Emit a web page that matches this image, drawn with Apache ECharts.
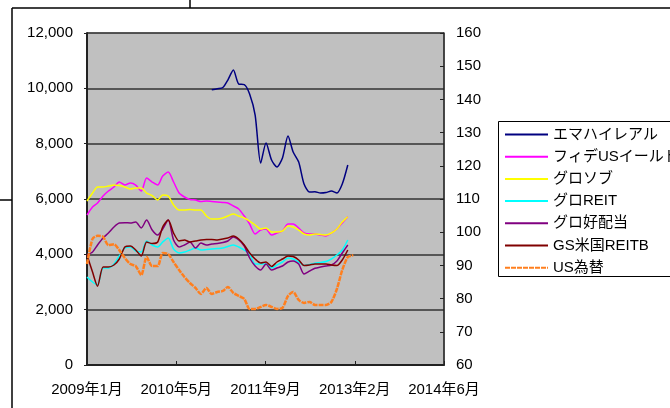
<!DOCTYPE html>
<html>
<head>
<meta charset="utf-8">
<script src="https://cdn.jsdelivr.net/npm/echarts@6/dist/echarts.min.js"></script>
<style>
  html, body { margin: 0; padding: 0; background: #fff; }
  #chart { width: 670px; height: 408px; }
</style>
</head>
<body>
<div id="chart"></div>
<script>
// 月次データ（2009年1月〜）
var months = [
  "2009-01","2009-02","2009-03","2009-04","2009-05","2009-06","2009-07","2009-08","2009-09","2009-10","2009-11","2009-12",
  "2010-01","2010-02","2010-03","2010-04","2010-05","2010-06","2010-07","2010-08","2010-09","2010-10","2010-11","2010-12",
  "2011-01","2011-02","2011-03","2011-04","2011-05","2011-06","2011-07","2011-08","2011-09","2011-10","2011-11","2011-12",
  "2012-01","2012-02","2012-03","2012-04","2012-05","2012-06","2012-07","2012-08","2012-09","2012-10","2012-11","2012-12",
  "2013-01","2013-02"
];
var xTickLabels = ["2009年1月", "2010年5月", "2011年9月", "2013年2月", "2014年6月"];
var seriesNames = ["エマハイレアル", "フィデUSイールド", "グロソブ", "グロREIT", "グロ好配当", "GS米国REITB", "US為替"];

var emaHigh = [
  null,null,null,null,null,null,null,null,null,null,null,null,
  null,null,null,null,null,null,null,null,null,null,null,
  9950,9986,10029,10300,10661,10155,10137,9794,9035,7300,8023,7409,7156,
  7481,8276,7698,7336,6541,6252,6263,6216,6234,6288,6216,6541,7228
];
var fideUs = [
  5421,5710,5855,6108,6288,6433,6614,6505,6577,6505,6288,6758,
  6614,6505,6830,6975,6614,6216,6072,5981,5963,5909,5927,5909,
  5891,5873,5855,5746,5638,5385,5096,4734,4879,4915,4698,4770,
  4843,5096,5096,4951,4770,4734,4734,4698,4662,4770,4915,5132,5360
];
var gloSov = [
  5927,6216,6433,6433,6469,6505,6487,6433,6361,6397,6397,6216,
  6126,5963,6144,6108,5782,5602,5602,5620,5602,5602,5385,5276,
  5276,5313,5385,5457,5385,5313,5204,5060,4915,4951,4807,4807,
  4843,5024,4987,4879,4734,4698,4734,4716,4698,4770,4915,5168,5360
];
var gloReit = [
  3180,3000,2900,3506,3506,3650,3939,4228,4265,4120,4084,4481,
  4337,4265,4445,4590,4192,4048,4084,4156,4228,4156,4174,4192,
  4210,4228,4282,4337,4265,4156,4012,3650,3650,3650,3506,3614,
  3723,3867,3831,3723,3596,3632,3675,3704,3740,3831,3975,4156,4518
];
var gloDiv = [
  3975,4084,4337,4590,4770,4987,5132,5143,5132,5168,4951,5240,
  4879,4698,4915,5240,4518,4265,4337,4445,4228,4409,4337,4373,
  4391,4427,4481,4626,4518,4301,3867,3578,3433,3650,3433,3506,
  3578,3723,3759,3650,3289,3397,3495,3542,3578,3614,3759,4048,4337
];
var gsReit = [
  3975,3361,2850,3542,3542,3614,3831,4265,4301,4156,3939,4445,
  4391,4445,4987,5240,4770,4481,4518,4445,4481,4518,4536,4536,
  4518,4554,4590,4662,4554,4337,4048,3831,3686,3723,3560,3723,
  3831,3939,3921,3795,3596,3614,3650,3650,3650,3614,3596,3795,4156
];
var usdJpy = [
  90.4,98.0,98.9,98.6,96.1,96.4,94.6,92.2,90.4,89.8,87.1,92.5,
  89.8,89.8,93.7,93.4,91.0,88.6,86.5,84.7,83.2,81.4,83.2,81.4,
  82.0,82.3,83.5,81.7,80.8,79.9,76.9,76.9,77.5,78.1,77.5,76.9,
  77.2,80.8,82.0,79.6,78.7,79.0,78.1,78.1,78.1,79.0,82.9,88.6,92.5,93.1
];

// 2009/1/1 からの日数（Excel の日付軸と同じ扱い）
function dayOffset(ym) {
  var p = ym.split("-");
  return (Date.UTC(+p[0], +p[1] - 1, 1) - Date.UTC(2009, 0, 1)) / 86400000;
}
function toPairs(values) {
  var out = [];
  for (var i = 0; i < values.length; i++) {
    if (values[i] != null) out.push([dayOffset(months[i]), values[i]]);
  }
  return out;
}

var FONT = "'Liberation Sans', Arial, 'Noto Sans CJK JP', sans-serif";
var colors = ["#000080", "#FF00FF", "#FFFF00", "#00FFFF", "#800080", "#800000", "#FF7F1E"];
var allData = [emaHigh, fideUs, gloSov, gloReit, gloDiv, gsReit, usdJpy];

var myChart = echarts.init(document.getElementById("chart"));
var series = seriesNames.map(function (name, i) {
  var isFx = i === 6;
  return {
    name: name,
    type: "line",
    yAxisIndex: isFx ? 1 : 0,
    data: toPairs(allData[i]),
    symbol: "none",
    smooth: 0.25,
    lineStyle: {
      color: colors[i],
      width: isFx ? 2.5 : 1.5,
      type: isFx ? [5, 1] : "solid",
    },
    itemStyle: { color: colors[i] },
  };
});

var option = {
  animation: false,
  textStyle: { fontFamily: FONT },
  grid: {
    left: 87, right: 226, top: 33, bottom: 43,
    show: true,
    backgroundColor: "#C0C0C0",
    borderColor: "#808080",
    borderWidth: 1,
  },
  legend: {
    orient: "vertical",
    left: 498,
    top: 121,
    padding: [6, 0, 1, 6],
    itemWidth: 43,
    itemHeight: 10,
    itemGap: 7.2,
    itemStyle: { opacity: 0 }, // 線だけ見せる（丸マーカーを隠す）
    data: seriesNames,
    textStyle: { fontSize: 15, lineHeight: 15, color: "#000", fontFamily: FONT, overflow: "none" },
  },
  xAxis: {
    type: "value",
    min: 0,
    max: 2000,
    interval: 500,
    axisLine: { show: true, onZero: false, lineStyle: { color: "#222", width: 2 } },
    axisTick: { show: true, inside: true, length: 4, lineStyle: { color: "#222" } },
    axisLabel: {
      fontSize: 15, color: "#000", margin: 17,
      formatter: function (v) { return xTickLabels[Math.round(v / 500)] || ""; },
    },
    splitLine: { show: false },
  },
  yAxis: [
    {
      type: "value",
      min: 0,
      max: 12000,
      interval: 2000,
      axisLine: { show: true, lineStyle: { color: "#222", width: 2 } },
      axisTick: { show: true, length: 3, lineStyle: { color: "#222" } },
      axisLabel: {
        fontSize: 15, color: "#000", margin: 14,
        formatter: function (v) { return v.toLocaleString("en-US"); },
      },
      splitLine: { show: true, lineStyle: { color: "#333", width: 1.5 } },
    },
    {
      type: "value",
      position: "right",
      min: 60,
      max: 160,
      interval: 10,
      axisLine: { show: true, lineStyle: { color: "#222", width: 1.5 } },
      axisTick: { show: true, inside: true, length: 4, lineStyle: { color: "#222" } },
      axisLabel: { fontSize: 15, color: "#000", margin: 12 },
      splitLine: { show: false },
    },
  ],
  series: series,
  // 元画像の外枠（切り取られたグラフエリアの枠線）と凡例の枠
  graphic: [
    { type: "line", shape: { x1: 12, y1: 8, x2: 670, y2: 8 }, style: { stroke: "#000", lineWidth: 1.5 } },
    { type: "line", shape: { x1: 12, y1: 8, x2: 12, y2: 408 }, style: { stroke: "#000", lineWidth: 1.5 } },
    { type: "line", shape: { x1: 190, y1: 0, x2: 190, y2: 8 }, style: { stroke: "#000", lineWidth: 1.5 } },
    { type: "line", shape: { x1: 0, y1: 200, x2: 12, y2: 200 }, style: { stroke: "#000", lineWidth: 1.5 } },
    { type: "rect", shape: { x: 498.5, y: 121.5, width: 220, height: 155 }, style: { stroke: "#000", lineWidth: 1, fill: null } },
  ],
};
myChart.setOption(option);
</script>
</body>
</html>
